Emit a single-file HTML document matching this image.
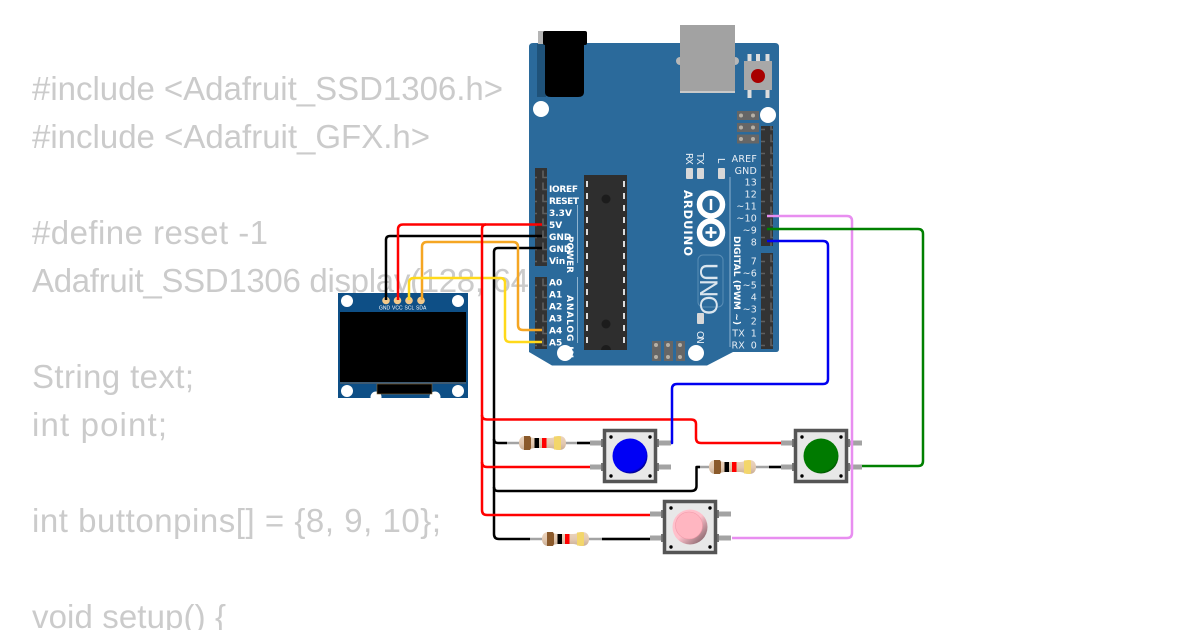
<!DOCTYPE html>
<html><head><meta charset="utf-8"><style>
html,body{margin:0;padding:0;background:#fff;width:1200px;height:630px;overflow:hidden}
svg{display:block}
.c{font-family:"Liberation Sans",sans-serif;font-size:33px;fill:#cbcbcb}
.l{font-family:"DejaVu Sans","Liberation Sans",sans-serif;font-size:9.500px;fill:#e8eef4;letter-spacing:.2px}
.b{font-family:"DejaVu Sans","Liberation Sans",sans-serif;font-size:9px;font-weight:bold;fill:#fff;letter-spacing:0}
.o{font-family:"Liberation Sans",sans-serif;font-size:5px;fill:#fff}
.w{fill:none;stroke-width:2.500;stroke-linejoin:round}
</style></head><body>
<svg width="1200" height="630" viewBox="0 0 1200 630" xmlns="http://www.w3.org/2000/svg">
<defs>
<pattern id="hp" x="0" y="0" width="12" height="12" patternUnits="userSpaceOnUse">
<rect width="12" height="12" fill="#333"/><path d="M3 2.500v7h6" fill="none" stroke="#5f5f5f" stroke-width="1.600"/>
</pattern>
<linearGradient id="rb" x1="0" y1="0" x2="0" y2="1"><stop offset="0" stop-color="#ecd5be"/><stop offset=".55" stop-color="#e2c8b0"/><stop offset="1" stop-color="#c8ad94"/></linearGradient>
<g id="res">
<path d="M0 0C0-6 4-7 7-7C11-7 12-5 16-5H31C35-5 36-7 40-7C43-7 47-6 47 0C47 6 43 7 40 7C36 7 35 5 31 5H16C12 5 11 7 7 7C4 7 0 6 0 0Z" fill="url(#rb)"/>
<path d="M5-7h6l1 2V5l-1 2H5Z" fill="#8b5a2b"/><rect x="15.500" y="-5" width="4.500" height="10" fill="#000"/><rect x="23" y="-5" width="4.500" height="10" fill="#f00"/><path d="M35-6.500L40-7L42-6.500V6.500L40 7L35 6.500Z" fill="#f3d66b"/>
</g>
<g id="btn">
<g fill="#a3a3a3"><rect x="-13" y="11.500" width="13" height="5"/><rect x="-13" y="35.500" width="13" height="5"/><rect x="54" y="11.500" width="14" height="5"/><rect x="54" y="35.500" width="14" height="5"/></g>
<g fill="#777"><rect x="-2" y="10" width="3" height="8"/><rect x="-2" y="34" width="3" height="8"/><rect x="53" y="10" width="3" height="8"/><rect x="53" y="34" width="3" height="8"/></g>
<rect x="1.500" y="1.500" width="51" height="51" fill="#e8e8e8" stroke="#555" stroke-width="3.500"/>
<g fill="#000"><circle cx="8" cy="8" r="1.700"/><circle cx="47" cy="8" r="1.700"/><circle cx="8" cy="47" r="1.700"/><circle cx="47" cy="47" r="1.700"/></g>
</g>
<radialGradient id="bg1" cx=".45" cy=".42" r=".6"><stop offset=".85" stop-color="#0000f5"/><stop offset="1" stop-color="#000070"/></radialGradient>
<radialGradient id="bg2" cx=".45" cy=".42" r=".62"><stop offset=".85" stop-color="#007a00"/><stop offset="1" stop-color="#003a00"/></radialGradient>
<linearGradient id="bg3" x1="0" y1="0" x2="1" y2="1"><stop offset=".5" stop-color="#ffc0cb"/><stop offset="1" stop-color="#6b5055"/></linearGradient>
</defs>

<!-- code text -->
<text class="c" x="32" y="100" textLength="471">#include &lt;Adafruit_SSD1306.h&gt;</text>
<text class="c" x="32" y="148" textLength="398">#include &lt;Adafruit_GFX.h&gt;</text>
<text class="c" x="32" y="244" textLength="236">#define reset -1</text>
<text class="c" x="32" y="292" textLength="497">Adafruit_SSD1306 display(128, 64</text>
<text class="c" x="32" y="388" textLength="162">String text;</text>
<text class="c" x="32" y="436" textLength="135">int point;</text>
<text class="c" x="32" y="532" textLength="409">int buttonpins[] = {8, 9, 10};</text>
<text class="c" x="32" y="628" textLength="194">void setup() {</text>

<!-- board -->
<path d="M533 43H775Q779 43 779 47V349Q779 352 776 352H733L707 365.500H552L529 352V47Q529 43 533 43Z" fill="#2b6a9b"/>
<!-- jack -->
<rect x="538" y="31" width="8" height="13" fill="#b5b5b5"/>
<rect x="537" y="44" width="9" height="53" fill="#1f5279"/>
<rect x="543" y="31" width="44" height="14" rx="2" fill="#000"/>
<path d="M545 44H584V92Q584 97 578 97H551Q545 97 545 92Z" fill="#000"/>
<!-- USB -->
<circle cx="680" cy="61" r="4" fill="#b8b8b8"/><circle cx="735" cy="61" r="4" fill="#b8b8b8"/>
<rect x="680" y="25" width="55" height="68" fill="#a2a2a2"/>
<rect x="680" y="91" width="55" height="2" fill="#c9c9c9"/>
<!-- reset -->
<g fill="#ddd"><rect x="747.500" y="54" width="4" height="8"/><rect x="756" y="54" width="4" height="8"/><rect x="765.500" y="54" width="4" height="8"/><rect x="747.500" y="89" width="4" height="9"/><rect x="765.500" y="89" width="4" height="9"/></g>
<rect x="744" y="61" width="28" height="29" fill="#a8a8a8"/>
<circle cx="758" cy="76" r="7" fill="#a80000"/>
<!-- holes -->
<g fill="#fff"><circle cx="541" cy="109" r="8"/><circle cx="768" cy="115" r="8"/><circle cx="565" cy="353" r="8"/><circle cx="696" cy="353" r="8"/></g>
<!-- ICSP top -->
<g fill="#666"><rect x="737" y="111" width="22" height="9"/><rect x="737" y="123" width="22" height="9"/><rect x="737" y="134.500" width="22" height="9"/></g>
<g fill="#b5b0a6"><circle cx="741" cy="115.500" r="2"/><circle cx="753" cy="115.500" r="2"/><circle cx="741" cy="127.500" r="2"/><circle cx="753" cy="127.500" r="2"/><circle cx="741" cy="139" r="2"/><circle cx="753" cy="139" r="2"/></g>
<!-- ICSP bottom -->
<g fill="#666"><rect x="652" y="341" width="9" height="20"/><rect x="664" y="341" width="9" height="20"/><rect x="676" y="341" width="9" height="20"/></g>
<g fill="#b5b0a6"><circle cx="656" cy="345" r="2"/><circle cx="668" cy="345" r="2"/><circle cx="680" cy="345" r="2"/><circle cx="656" cy="357" r="2"/><circle cx="668" cy="357" r="2"/><circle cx="680" cy="357" r="2"/></g>
<!-- headers -->
<rect x="761" y="126" width="12" height="120" fill="url(#hp)"/>
<rect x="761" y="253" width="12" height="96" fill="url(#hp)"/>
<rect x="535" y="168" width="12" height="98" fill="url(#hp)"/>
<rect x="535" y="277" width="12" height="72" fill="url(#hp)"/>
<!-- IC -->
<rect x="584" y="175" width="43" height="175" fill="#2e2e2e"/>
<g fill="#1c1c1c"><circle cx="606" cy="199" r="4.500"/><circle cx="606" cy="324" r="4.500"/><path d="M601 350a5 5 0 0 1 10 0Z"/></g>
<path d="M587 181V344M624 181V344" stroke="#ddd" stroke-width="2" stroke-dasharray="6 6" fill="none"/>
<!-- LEDs -->
<g fill="#d8d8d8"><rect x="686" y="168" width="7" height="11" rx="1"/><rect x="697" y="168" width="7" height="11" rx="1"/><rect x="718" y="168" width="7" height="11" rx="1"/><rect x="697" y="313" width="7" height="11" rx="1"/></g>
<!-- lines -->
<path d="M730 177V347M577.500 205V263M577.500 277V343" stroke="#8fb3cf" stroke-width="1" fill="none"/>
<!-- logo -->
<g fill="none" stroke="#fff" stroke-width="5.500"><circle cx="711" cy="204.500" r="11.500"/><circle cx="711" cy="232.500" r="11.500"/></g>
<path d="M711 199V210M705.500 232.500H716.500M711 227V238" stroke="#fff" stroke-width="2.500" fill="none"/>
<rect x="698" y="255" width="25" height="52" rx="5" fill="none" stroke="#5a8db5" stroke-width="1"/>
<text transform="translate(700,263) rotate(90)" font-family="Liberation Sans,sans-serif" font-size="25" fill="#dbe6ef" textLength="52">UNO</text>
<text transform="translate(684,190) rotate(90)" font-family="DejaVu Sans,sans-serif" font-size="11.500" font-weight="bold" fill="#fff" textLength="66">ARDUINO</text>
<text class="l" transform="translate(686,153) rotate(90)" textLength="12">RX</text>
<text class="l" transform="translate(697,153) rotate(90)" textLength="12">TX</text>
<text class="l" transform="translate(718,158) rotate(90)">L</text>
<text class="l" transform="translate(697,331) rotate(90)" textLength="13">ON</text>
<text class="b" transform="translate(734,236) rotate(90)" textLength="89">DIGITAL (PWM ~)</text>
<text class="b" transform="translate(567,236) rotate(90)" textLength="37">POWER</text>
<text class="b" transform="translate(567,295) rotate(90)" textLength="63">ANALOG IN</text>
<!-- left labels -->
<g>
<text class="b" x="549" y="192" textLength="29">IOREF</text><text class="b" x="549" y="204" textLength="30">RESET</text><text class="b" x="549" y="216">3.3V</text><text class="b" x="549" y="228">5V</text><text class="b" x="549" y="240">GND</text><text class="b" x="549" y="252">GND</text><text class="b" x="549" y="264">Vin</text>
<text class="b" x="549" y="285.500">A0</text><text class="b" x="549" y="297.500">A1</text><text class="b" x="549" y="309.500">A2</text><text class="b" x="549" y="321.500">A3</text><text class="b" x="549" y="333.500">A4</text><text class="b" x="549" y="345.500">A5</text>
</g>
<!-- right labels -->
<g text-anchor="end">
<text class="l" x="757" y="162">AREF</text><text class="l" x="757" y="174">GND</text><text class="l" x="757" y="185.500">13</text><text class="l" x="757" y="197.500">12</text><text class="l" x="757" y="209.500">~11</text><text class="l" x="757" y="221.500">~10</text><text class="l" x="757" y="233.500">~9</text><text class="l" x="757" y="245.500">8</text>
<text class="l" x="757" y="264.500">7</text><text class="l" x="757" y="276.500">~6</text><text class="l" x="757" y="288.500">~5</text><text class="l" x="757" y="300.500">4</text><text class="l" x="757" y="312.500">~3</text><text class="l" x="757" y="324.500">2</text><text class="l" x="757" y="336.500">1</text><text class="l" x="757" y="348.500">0</text>
<text class="l" x="745" y="336.500">TX</text><text class="l" x="745" y="348.500">RX</text>
</g>

<!-- OLED -->
<rect x="338" y="293" width="130" height="105" fill="#0e4f86"/>
<g fill="#fff"><circle cx="347" cy="301" r="6"/><circle cx="458" cy="301" r="6"/><circle cx="347" cy="391" r="6"/><circle cx="458" cy="391" r="6"/><circle cx="376" cy="397" r="5.500"/><circle cx="435" cy="397" r="5.500"/></g>
<rect x="340" y="312" width="126" height="70" fill="#000"/>
<rect x="340" y="382" width="126" height="2" fill="#3d5a73"/>
<rect x="377" y="384" width="55" height="10" fill="#000" stroke="#8a6a3a" stroke-width=".6"/>
<rect x="338" y="398" width="130" height="4" fill="#fff"/>
<g fill="#f3c98a"><circle cx="386" cy="300.500" r="3.800"/><circle cx="397.500" cy="300.500" r="3.800"/><circle cx="409" cy="300.500" r="3.800"/><circle cx="421" cy="300.500" r="3.800"/></g>
<text class="o" x="379" y="309.500">GND</text><text class="o" x="392" y="309.500">VCC</text><text class="o" x="404.500" y="309.500">SCL</text><text class="o" x="416" y="309.500">SDA</text>

<!-- resistors & leads -->
<path d="M507 443H602M697 467H781M530 539H650" stroke="#a3a3a3" stroke-width="2.500" fill="none"/>
<use href="#res" x="519" y="443"/><use href="#res" x="709" y="467"/><use href="#res" x="542" y="539"/>
<!-- buttons -->
<use href="#btn" x="603" y="429"/><use href="#btn" x="794" y="429"/><use href="#btn" x="663" y="500"/>
<circle cx="630" cy="456" r="17.500" fill="url(#bg1)"/>
<circle cx="821" cy="456" r="17.500" fill="url(#bg2)"/>
<circle cx="690" cy="527" r="17.500" fill="url(#bg3)"/><circle cx="689" cy="525.500" r="13.500" fill="#ffb6c1" stroke="#f29aaa" stroke-width=".6"/>

<!-- wires -->
<g class="w">
<path class="w" stroke="#000" d="M542 236H390Q386 236 386 240V300"/>
<path class="w" stroke="#000" d="M542 248H498Q494 248 494 252V534Q494 539 499 539H530"/>
<path class="w" stroke="#000" d="M494 439Q494 443 498 443H507M577 443H590"/>
<path class="w" stroke="#000" d="M494 487Q494 491 498 491H691Q696.500 491 696.500 486V467H700M769 467H781M602 539H650"/>
<path class="w" stroke="#f5a623" d="M542 330H523Q518 330 518 325V247Q518 242 513 242H427Q422 242 422 247V300"/>
<path class="w" stroke="#ffd91a" d="M542 342H510Q505 342 505 337V283Q505 278 500 278H414Q409 278 409 283V300"/>
<path class="w" stroke="#f00" d="M542 224.500H403Q398 224.500 398 229.500V300"/>
<path class="w" stroke="#f00" d="M486 224.500Q482 224.500 482 229V510Q482 515 487 515H650"/>
<path class="w" stroke="#f00" d="M482 415Q482 419.500 487 419.500H691Q696 419.500 696 424V438Q696 443 701 443H781"/>
<path class="w" stroke="#f00" d="M482 462Q482 467 487 467H590"/>
<path class="w" stroke="#e88ef0" d="M767 216H847Q852 216 852 221V533Q852 538 847 538H732"/>
<path class="w" stroke="#008000" d="M767 229H918Q923 229 923 234V461Q923 466 918 466H862"/>
<path class="w" stroke="#0000f0" d="M767 241H823Q828 241 828 246V379Q828 384 823 384H677Q672 384 672 389V443H671"/>
</g>
</svg>
</body></html>
